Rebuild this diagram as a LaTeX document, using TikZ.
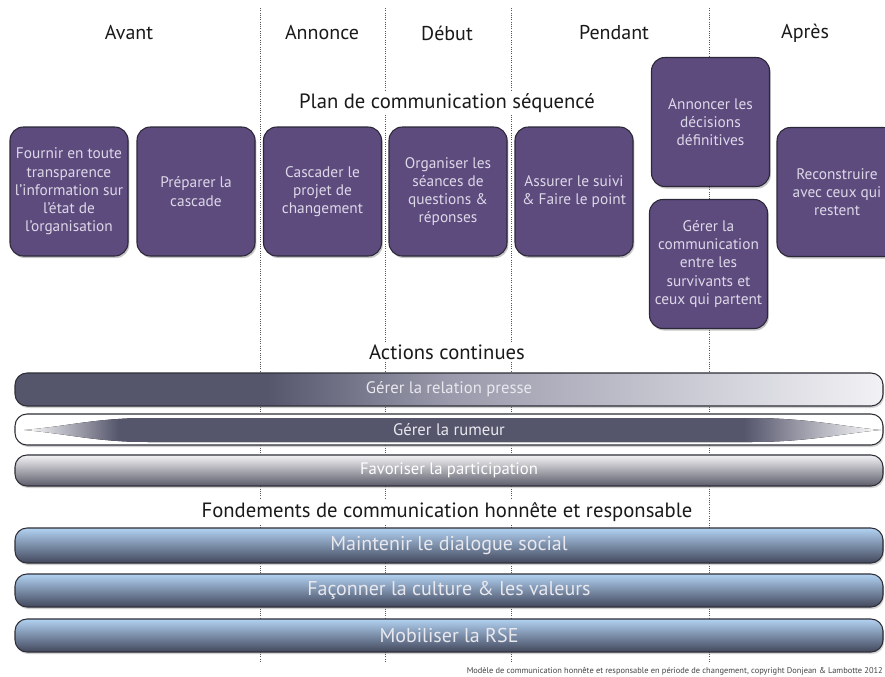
\documentclass[tikz,border=0pt]{standalone}
\usepackage{fontspec}
\setmainfont{PT Sans}
\usetikzlibrary{shadows}
\definecolor{pfill}{HTML}{5D4B7E}
\definecolor{pborder}{HTML}{2C2838}
\definecolor{ptext}{HTML}{DDD8E8}
\definecolor{bdark}{HTML}{55556C}
\definecolor{bmid}{HTML}{9A9AAC}
\definecolor{blight}{HTML}{F2F2F5}
\definecolor{edge}{HTML}{2E2E38}
\definecolor{vline}{HTML}{555555}
\definecolor{head}{HTML}{1A1A1A}
\definecolor{bluetop}{HTML}{B2D2F2}
\definecolor{bluemid}{HTML}{7F9CC0}
\definecolor{bluebot}{HTML}{42475C}
\definecolor{silvtop}{HTML}{F4F4F6}
\definecolor{silvmid}{HTML}{B4B4BE}
\definecolor{silvbot}{HTML}{5C5C6A}
\definecolor{bartext}{HTML}{E8E8EE}
\definecolor{foottext}{HTML}{444444}
\pgfdeclarehorizontalshading{pressesh}{100bp}{color(0bp)=(bdark); color(39.5bp)=(bdark); color(50bp)=(bmid); color(75bp)=(blight); color(100bp)=(blight)}
\pgfdeclarehorizontalshading{rumeursh}{100bp}{color(0bp)=(white); color(25bp)=(white); color(30.5bp)=(bdark); color(67bp)=(bdark); color(75bp)=(white); color(100bp)=(white)}
\begin{document}
\begin{tikzpicture}[x=0.75pt,y=-0.75pt,
  hdr/.style={font=\fontsize{15}{17}\selectfont, text=head, fill=white, inner sep=2pt},
  pbox/.style={fill=pfill, draw=pborder, line width=0.8pt, rounded corners=10pt,
    minimum width=88.5pt, minimum height=96.75pt, text=ptext, align=center,
    font=\fontsize{11.5}{13.7}\selectfont, inner sep=0.5pt,
    drop shadow={shadow xshift=1pt, shadow yshift=-1.5pt, opacity=0.45}},
  bar/.style={draw=edge, line width=0.8pt, rounded corners=9pt, minimum width=651pt,
    drop shadow={shadow xshift=0.8pt, shadow yshift=-1.5pt, opacity=0.35}},
  bartxt/.style={font=\fontsize{12.5}{14}\selectfont, text=bartext},
  bluebar/.style={bar, top color=bluetop, middle color=bluemid, bottom color=bluebot,
    font=\fontsize{15}{17}\selectfont, text=bartext},
  vl/.style={vline, densely dotted, line width=0.7pt},
]
\useasboundingbox (0,0) rectangle (885,676);
\fill[white] (0,0) rectangle (885,676);

% vertical dotted separators
\foreach \xx/\nm in {260/a,385/b,511/c,709/d} {
  \coordinate (t\nm) at (\xx,8);
  \coordinate (u\nm) at (\xx,663);
  \draw[vl] (t\nm) -- (u\nm);
}

% phase headers
\node[hdr] (h1) at (129,33) {Avant};
\node[hdr] (h2) at (322,33) {Annonce};
\node[hdr] (h3) at (447,33) {Début};
\node[hdr] (h4) at (614,33) {Pendant};
\node[hdr] (h5) at (805,33) {Après};

\node[hdr, font=\fontsize{15.5}{17}\selectfont] (plan) at (447,103) {Plan de communication séquencé};

% purple boxes
\node[pbox] (b1) at (69,191.5) {Fournir en toute\\transparence\\l’information sur\\l’état de\\l’organisation};
\node[pbox] (b2) at (196,191.5) {Préparer la\\cascade};
\node[pbox] (b3) at (322.5,191.5) {Cascader le\\projet de\\changement};
\node[pbox] (b4) at (448,191.5) {Organiser les\\séances de\\questions \&\\réponses};
\node[pbox] (b5) at (574,191.5) {Assurer le suivi\\\& Faire le point};
\node[pbox] (b6) at (710.5,122) {Annoncer les\\décisions\\définitives};
\node[pbox] (b7) at (708.5,264) {Gérer la\\communication\\entre les\\survivants et\\ceux qui partent};
\node[pbox, minimum width=90pt] (b8) at (837,192) {Reconstruire\\avec ceux qui\\restent};

% continuous actions
\node[hdr, font=\fontsize{15.5}{17}\selectfont] (act) at (447,352) {Actions continues};

\node[bar, shading=pressesh, minimum height=24.75pt] (r1) at (449,389.5) {};
\node[bartxt] (r1t) at (r1.center) {Gérer la relation presse};

\node[bar, fill=white, minimum height=23.25pt] (r2) at (449,429.5) {};
\fill[shading=rumeursh] (24,430) .. controls (70,426) and (95,418) .. (150,418)
  -- (750,418) .. controls (810,418) and (845,427) .. (881,430)
  .. controls (845,433) and (810,442) .. (750,442)
  -- (150,442) .. controls (95,442) and (70,434) .. (24,430) -- cycle;
\node[bartxt] (r2t) at (r2.center) {Gérer la rumeur};

\node[bar, top color=silvtop, middle color=silvmid, bottom color=silvbot, minimum height=23.25pt] (r3) at (449,470.5) {};
\node[bartxt, text=white] (r3t) at (r3.center) {Favoriser la participation};

% foundations
\node[hdr, font=\fontsize{15.5}{17}\selectfont] (fond) at (447,512) {Fondements de communication honnête et responsable};

\node[bluebar, minimum height=26.25pt] (f1) at (449,545.5) {Maintenir le dialogue social};
\node[bluebar, minimum height=24.75pt] (f2) at (449,590.5) {Façonner la culture \& les valeurs};
\node[bluebar, minimum height=24.75pt] (f3) at (449,635.5) {Mobiliser la RSE};

% footer
\node[anchor=east, font=\fontsize{6.3}{7}\selectfont, text=foottext, inner sep=0pt] (foot) at (883,671)
  {Modèle de communication honnête et responsable en période de changement, copyright Donjean \& Lambotte 2012};
\end{tikzpicture}
\end{document}
